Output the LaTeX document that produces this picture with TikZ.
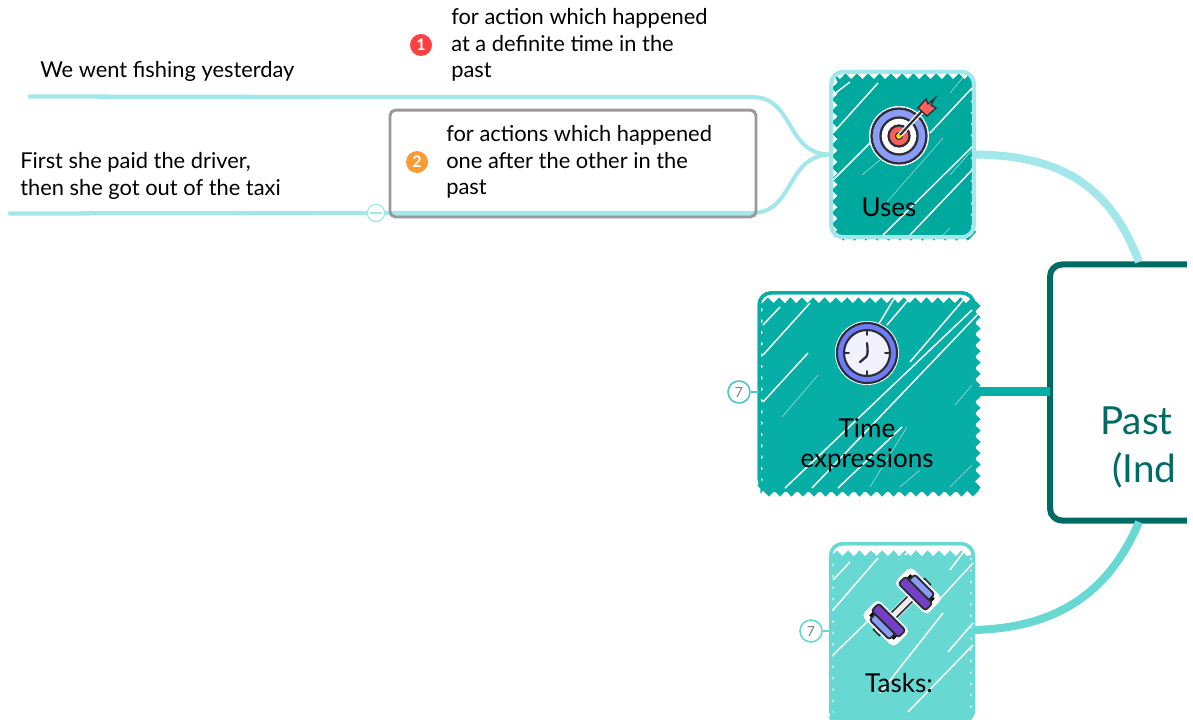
\documentclass[tikz,border=0pt]{standalone}
\usepackage{fontspec}
\setmainfont{Lato}
\usetikzlibrary{positioning}
\usetikzlibrary{decorations.pathmorphing}
\definecolor{branchcyan}{HTML}{A2E8EA}
\definecolor{deepteal}{HTML}{006B65}
\definecolor{midteal}{HTML}{07AEA5}
\definecolor{usesteal}{HTML}{00A99D}
\definecolor{paleteal}{HTML}{67D9D2}
\definecolor{icondark}{HTML}{2D2D3A}
\definecolor{iconblue}{HTML}{8A9CF5}
\definecolor{iconred}{HTML}{F86060}
\tikzset{
  hatchfill/.style={fill=#1,decorate,decoration={zigzag,segment length=8.5pt,amplitude=2.2pt},inner sep=0pt,outer sep=0pt},
  sketchframe/.style={rounded corners=9pt,inner sep=0pt,outer sep=0pt},
  hatchline/.style={white,line width=1.1pt},
  thinhatch/.style={white,opacity=0.6,line width=0.45pt},
  branchline/.style={branchcyan,line width=3pt,line cap=round},
  leaftext/.style={inner sep=0pt,align=left,anchor=west,font=\fontsize{16.4}{19.9}\selectfont},
  tasktext/.style={inner sep=0pt,align=center,text=black,font=\fontsize{19.5}{22.5}\selectfont},
  badge/.style={circle,fill=#1,text=white,inner sep=0pt,minimum size=16.5pt,font=\fontsize{12}{12}\selectfont\bfseries},
  countmark/.style={circle,draw=#1,fill=white,line width=1.2pt,inner sep=0pt,minimum size=16.5pt,text=gray,font=\fontsize{10.5}{10.5}\selectfont},
  titletext/.style={inner sep=0pt,anchor=base west,text=deepteal,font=\fontsize{29}{29}\selectfont},
}
\begin{document}
\begin{tikzpicture}[x=0.75pt,y=0.75pt,yscale=-1,xscale=1]
\useasboundingbox (0,0) rectangle (1193,720);
\begin{scope}
\clip (0,0) rectangle (1187,720);

%Shape: Topic frames
\node [sketchframe,draw=deepteal,line width=4.5pt,fill=white,minimum width=262.5pt,minimum height=192pt] (pasttopic) at (1225,392.5) {};
\node [sketchframe,draw=branchcyan,line width=3pt,minimum width=107pt,minimum height=124pt] (usesframe) at (902.5,154.5) {};
\node [sketchframe,draw=midteal,line width=2.5pt,minimum width=161pt,minimum height=148pt] (timeframe) at (866.5,391.5) {};
\node [sketchframe,draw=paleteal,line width=2.5pt,minimum width=107pt,minimum height=134pt] (tasksframe) at (902,633) {};

%Straight Lines: main branches
\draw [branchcyan,line width=6pt] (usesframe.east) ++(0,0) coordinate (usesout) .. controls (1060,155) and (1110,185) .. (1139,262);
\draw [midteal,line width=7pt] (timeframe.east) -- (pasttopic.west |- timeframe.east);
\draw [paleteal,line width=6pt] (tasksframe.east) ++(0,-3) coordinate (tasksout) .. controls (1060,628) and (1110,590) .. (1139,522);

%Shape: Hatched fills
\node [hatchfill=usesteal,minimum width=104pt,minimum height=121pt] (usesfill) at (904,157) {};
\node [hatchfill=midteal,minimum width=163pt,minimum height=145pt] (timefill) at (869,397) {};
\node [hatchfill=paleteal,minimum width=106pt,minimum height=130pt] (tasksfill) at (902,640) {};
\draw [sketchframe,draw=branchcyan,line width=3pt] (usesframe.south west) rectangle (usesframe.north east);
\draw [sketchframe,draw=midteal,line width=2.5pt] (timeframe.south west) rectangle (timeframe.north east);
\draw [sketchframe,draw=paleteal,line width=2.5pt] (tasksframe.south west) rectangle (tasksframe.north east);

%Straight Lines: hatch strokes
\foreach \ax/\ay/\bx/\by in {833/95/850/82,833/133/878/83,833/180/885/128,930/133/972/88,883/235/972/147,910/235/972/170}
  \draw [hatchline] (\ax,\ay) -- (\bx,\by);
\foreach \ax/\ay/\bx/\by in {862/175/880/160,887/202/943/138,950/175/972/150,950/228/943/235,950/93/965/75}
  \draw [thinhatch] (\ax,\ay) -- (\bx,\by);
\foreach \ax/\ay/\bx/\by in {763/325/780/307,763/355/810/303,763/402/808/353,785/488/972/310,812/488/980/312,838/488/902/427,877/327/895/297,887/325/910/298,910/362/965/298}
  \draw [hatchline] (\ax,\ay) -- (\bx,\by);
\foreach \ax/\ay/\bx/\by in {782/417/818/375,955/405/972/385,870/487/907/427,950/487/972/465,900/487/920/470}
  \draw [thinhatch] (\ax,\ay) -- (\bx,\by);
\foreach \ax/\ay/\bx/\by in {833/580/850/562,833/610/878/558,833/655/872/617,905/555/912/548,950/570/965/550,927/613/973/563,880/693/943/613,908/712/973/645,948/652/973/623}
  \draw [hatchline] (\ax,\ay) -- (\bx,\by);

%Straight Lines: leaf branches
\coordinate (yesterdayend) at (30,96.5);
\coordinate (yesterdaymid) at (320,97);
\coordinate (taxiend) at (10,213.5);
\coordinate (taximid) at (316,213);
\draw [branchline] (usesframe.west) .. controls (785,155) and (795,97) .. (752,97) -- (yesterdaymid);
\draw [branchline,line width=3.2pt] (yesterdaymid) -- (yesterdayend);
\draw [branchline] (usesframe.west) .. controls (785,155) and (795,213) .. (752,213) -- (taximid);
\draw [branchline,line width=3.2pt] (taximid) -- (taxiend);

%Shape: Rounded Rectangle
\node [rounded corners=4pt,draw=black!40,line width=2.2pt,minimum width=274.5pt,minimum height=80pt,inner sep=0pt] (actionbox) at (573,163.5) {};
\node [circle,draw=branchcyan,fill=white,line width=1pt,minimum size=13pt,inner sep=0pt] (collapsemark) at (376,213) {};
\draw [branchcyan,line width=0.8pt] ([xshift=-4.5pt]collapsemark.center) -- ([xshift=4.5pt]collapsemark.center);

%Shape: Target icon
\fill [white] (899,136) circle (30);
\filldraw [draw=icondark,fill=iconblue,line width=1.7pt] (899,136) circle (27.5);
\filldraw [draw=icondark,fill=white,line width=1.7pt] (899,136) circle (18.5);
\filldraw [draw=icondark,fill=iconred,line width=1.7pt] (899,136) circle (10.5);
\filldraw [draw=icondark,fill=yellow!80!orange,line width=0.8pt] (899,136) circle (3.5);
\draw [white,line width=3.6pt] (900,135) -- (923,110);
\draw [icondark,line width=1.6pt] (900,135) -- (923,110);
\filldraw [draw=icondark,fill=iconred,line width=1pt] (918,108) -- (926,99) -- (928,104) -- (935,98) -- (931,105) -- (936,108) -- (927,116) -- cycle;

%Shape: Clock icon
\fill [white] (867,353) circle (32);
\filldraw [draw=icondark,fill=iconblue!80!blue,line width=1.6pt] (867,353) circle (30);
\filldraw [draw=icondark,fill=blue!5,line width=1.6pt] (867,353) circle (23);
\foreach \tickx/\ticky in {0/-18,0/18,-18/0,18/0}
  \draw [icondark,line width=1.3pt,line cap=round] (867+\tickx,353+\ticky) -- (867+1.2*\tickx,353+1.2*\ticky);
\draw [icondark,line width=1.7pt,line cap=round] (867,343) .. controls (868,350) and (868,355) .. (866,357) -- (860,362);

%Shape: Dumbbell icon
\begin{scope}[shift={(902,607)},rotate=-45]
  \draw [white,line width=7.5pt] (-20,0) -- (20,0);
  \filldraw [draw=icondark,fill=black!7,line width=1.2pt] (-20,-3.5) rectangle (20,3.5);
  \foreach \s in {1,-1}{
    \filldraw [draw=icondark,fill=black!10,line width=1.2pt] (\s*32,-4) rectangle (\s*36,4);
    \filldraw [draw=white,line width=4pt,rounded corners=2pt] (\s*14,-20) rectangle (\s*32,20);
    \filldraw [draw=icondark,fill=iconblue,line width=1.4pt,rounded corners=2pt] (\s*23,-14) rectangle (\s*32,14);
    \filldraw [draw=icondark,fill=violet!55!blue!75,line width=1.4pt,rounded corners=2pt] (\s*14,-19) rectangle (\s*24,19);
  }
\end{scope}

%Text Node
\node [tasktext] (useslabel) at (889,207) {Uses};
\node [tasktext] (timelabel) at (867,445) {Time\\expressions};
\node [tasktext] (taskslabel) at (899,683) {Tasks:};
\node [titletext] (titlefirst) at (1100,435) {Past};
\node [titletext] (titlesecond) at (1112,482) {(Ind};
\node [leaftext] (definitetext) at (451,45) {for action which happened\\at a definite time in the\\past};
\node [leaftext] (sequencetext) at (446,162) {for actions which happened\\one after the other in the\\past};
\node [leaftext] (yesterdaytext) at (40,71) {We went fishing yesterday};
\node [leaftext] (taxitext) at (20,176) {First she paid the driver,\\then she got out of the taxi};
\node [badge=red!75!white] (firstbadge) at (421,45) {1};
\node [badge=orange!80!white] (secondbadge) at (417,162) {2};
\node [countmark=midteal!70!white] (timecount) at (739,392) {7};
\node [countmark=paleteal] (taskscount) at (811,631) {7};
\draw [midteal!70!white,line width=1pt] (timecount.east) -- (timeframe.west |- timecount.east);
\draw [paleteal,line width=1pt] (taskscount.east) -- (tasksframe.west |- taskscount.east);
\end{scope}
\end{tikzpicture}
\end{document}
